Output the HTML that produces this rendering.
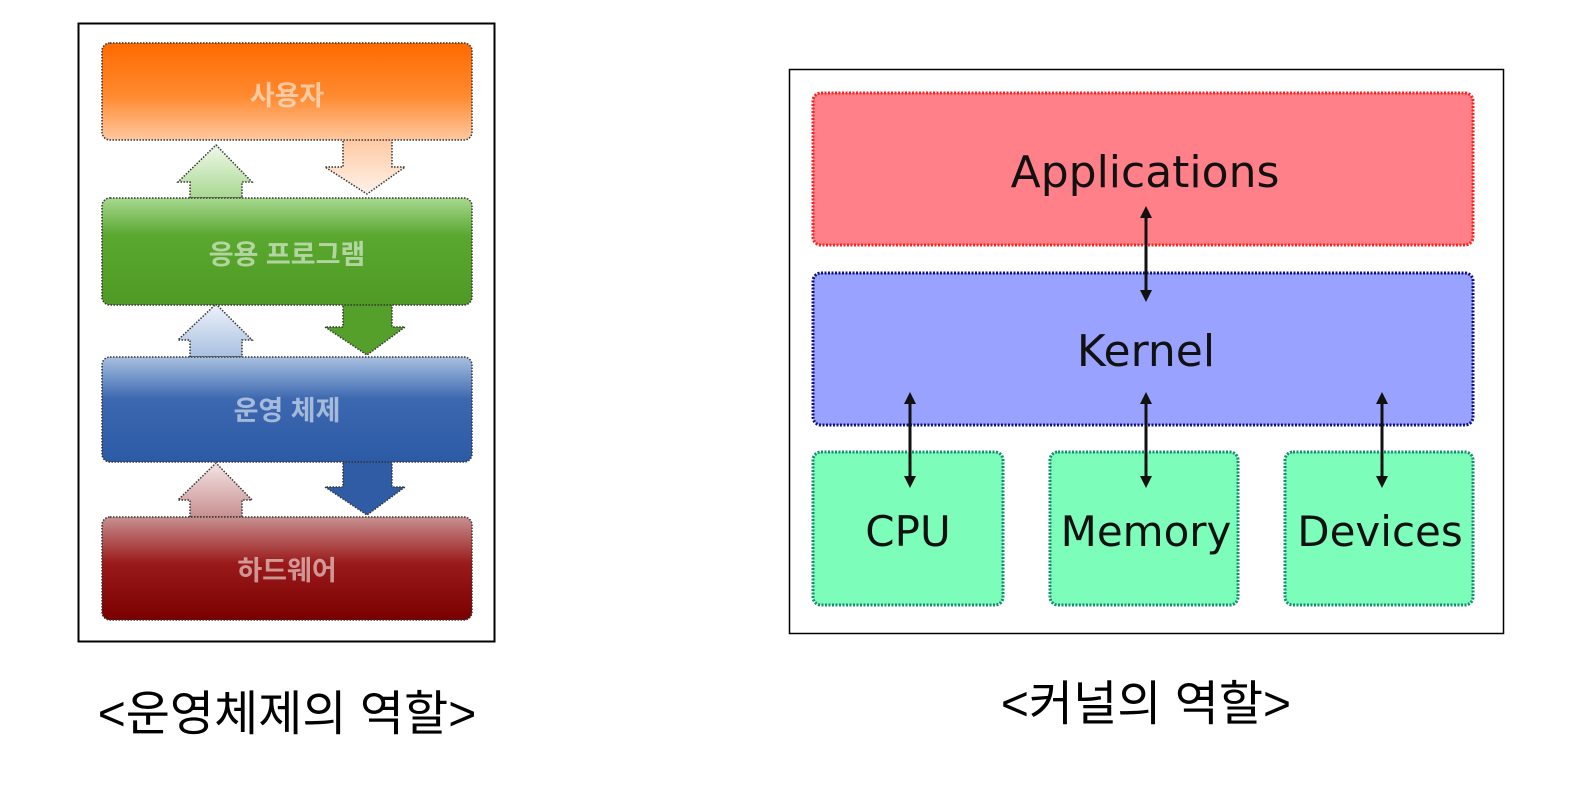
<!DOCTYPE html>
<html><head><meta charset="utf-8"><style>
body{margin:0;background:#fff;width:1592px;height:796px;overflow:hidden}
</style></head><body>
<svg width="1592" height="796" viewBox="0 0 1592 796" xmlns="http://www.w3.org/2000/svg">
<defs>
<linearGradient id="og" x1="0" y1="0" x2="0" y2="1"><stop offset="0" stop-color="#ff6a00"/><stop offset="0.55" stop-color="#ff8a30"/><stop offset="1" stop-color="#ffc8a0"/></linearGradient>
<linearGradient id="oa" x1="0" y1="0" x2="0" y2="1"><stop offset="0" stop-color="#ffc8a0"/><stop offset="1" stop-color="#fff2ea"/></linearGradient>
<linearGradient id="gg" x1="0" y1="0" x2="0" y2="1"><stop offset="0" stop-color="#a8d890"/><stop offset="0.35" stop-color="#5aa830"/><stop offset="1" stop-color="#4f9a25"/></linearGradient>
<linearGradient id="ga" x1="0" y1="0" x2="0" y2="1"><stop offset="0" stop-color="#f0f8ea"/><stop offset="1" stop-color="#a8d890"/></linearGradient>
<linearGradient id="bg" x1="0" y1="0" x2="0" y2="1"><stop offset="0" stop-color="#a8c0e0"/><stop offset="0.4" stop-color="#3c68b0"/><stop offset="1" stop-color="#2c5aa5"/></linearGradient>
<linearGradient id="ba" x1="0" y1="0" x2="0" y2="1"><stop offset="0" stop-color="#eef2fa"/><stop offset="1" stop-color="#a8c0e0"/></linearGradient>
<linearGradient id="rg" x1="0" y1="0" x2="0" y2="1"><stop offset="0" stop-color="#c89090"/><stop offset="0.45" stop-color="#9a1a1a"/><stop offset="1" stop-color="#7a0000"/></linearGradient>
<linearGradient id="ra" x1="0" y1="0" x2="0" y2="1"><stop offset="0" stop-color="#f4e4e4"/><stop offset="1" stop-color="#c89090"/></linearGradient>
<marker id="ah" viewBox="0 0 10 10" refX="5" refY="5" markerWidth="4" markerHeight="4" orient="auto-start-reverse"><path d="M0,0L10,5L0,10z" fill="#111"/></marker>
</defs>
<rect x="78.5" y="23.5" width="416" height="618" fill="#fff" stroke="#000" stroke-width="2"/>
<g stroke="#333" stroke-width="1.5" stroke-dasharray="1.5 1.5">
<path d="M190,198 V182 H178 L216,145 L252,182 H242 V198 Z" fill="url(#ga)"/>
<path d="M190,357 V340 H178 L216,304 L252,340 H242 V357 Z" fill="url(#ba)"/>
<path d="M190,517 V500 H178 L216,463 L252,500 H242 V517 Z" fill="url(#ra)"/>
<path d="M343,138 V167 H325 L367,194 L405,167 H392 V138 Z" fill="url(#oa)"/>
<path d="M343,303 V327 H325 L367,355 L405,327 H392 V303 Z" fill="#55a02a"/>
<path d="M343,460 V487 H325 L367,515 L405,487 H392 V460 Z" fill="#2f5ca5"/>
<rect x="102" y="43" width="370" height="97" rx="8" fill="url(#og)"/>
<rect x="102" y="198" width="370" height="107" rx="8" fill="url(#gg)"/>
<rect x="102" y="357" width="370" height="105" rx="8" fill="url(#bg)"/>
<rect x="102" y="517" width="370" height="103" rx="8" fill="url(#rg)"/>
</g>
<g font-family="Liberation Sans, Noto Sans CJK KR, sans-serif" font-size="27" font-weight="bold" text-anchor="middle" fill="#ffffff" fill-opacity="0.55">
<text x="287" y="105">사용자</text>
<text x="287" y="264">응용 프로그램</text>
<text x="287" y="420">운영 체제</text>
<text x="287" y="580">하드웨어</text>
</g>
<text x="287" y="730" font-family="Liberation Sans, Noto Sans CJK KR, sans-serif" font-size="48" text-anchor="middle">&lt;운영체제의 역할&gt;</text>
<rect x="789.5" y="69.5" width="714" height="564" fill="#fff" stroke="#000" stroke-width="1.5"/>
<rect x="813" y="93" width="660" height="152" rx="8" fill="#ff8088" stroke="#ff2020" stroke-width="3" stroke-dasharray="2 1.5"/>
<rect x="813" y="273" width="660" height="152" rx="8" fill="#9aa2ff" stroke="#10108a" stroke-width="3" stroke-dasharray="2 1.5"/>
<rect x="813" y="452" width="190" height="153" rx="8" fill="#7cfdba" stroke="#109070" stroke-width="3" stroke-dasharray="2 1.5"/>
<rect x="1050" y="452" width="188" height="153" rx="8" fill="#7cfdba" stroke="#109070" stroke-width="3" stroke-dasharray="2 1.5"/>
<rect x="1285" y="452" width="188" height="153" rx="8" fill="#7cfdba" stroke="#109070" stroke-width="3" stroke-dasharray="2 1.5"/>
<g stroke="#111" stroke-width="3" marker-start="url(#ah)" marker-end="url(#ah)">
<line x1="1146" y1="212" x2="1146" y2="296"/>
<line x1="910" y1="398" x2="910" y2="482"/>
<line x1="1146" y1="398" x2="1146" y2="482"/>
<line x1="1382" y1="398" x2="1382" y2="482"/>
</g>
<g font-family="DejaVu Sans, sans-serif" text-anchor="middle" fill="#111">
<text x="1145" y="187" font-size="44">Applications</text>
<text x="1146" y="366" font-size="44">Kernel</text>
<text x="908" y="546" font-size="42">CPU</text>
<text x="1146" y="546" font-size="42">Memory</text>
<text x="1380" y="546" font-size="42">Devices</text>
</g>
<text x="1146" y="720" font-family="Liberation Sans, Noto Sans CJK KR, sans-serif" font-size="48" text-anchor="middle">&lt;커널의 역할&gt;</text>
</svg>
</body></html>
